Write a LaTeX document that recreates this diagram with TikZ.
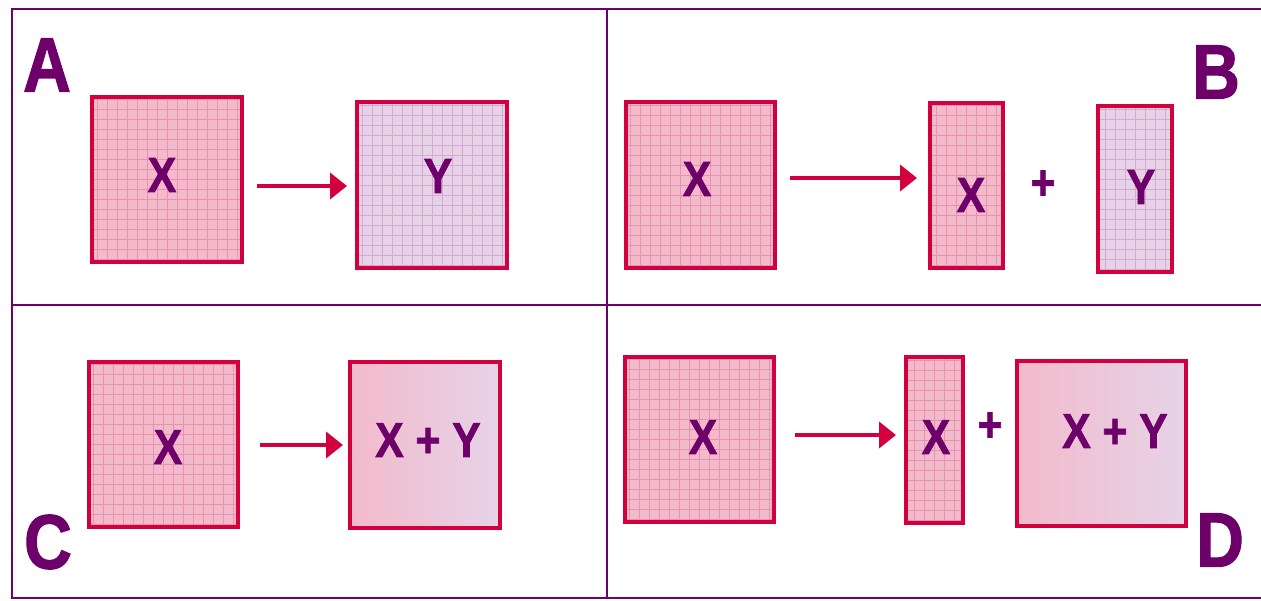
\documentclass[tikz,border=0pt]{standalone}
\usepackage{fontspec}
\setmainfont{Liberation Sans}[BoldFeatures={FakeBold=1.6}]
\usetikzlibrary{arrows.meta}
\definecolor{purp}{HTML}{6E006A}
\definecolor{redb}{HTML}{D2003C}
\definecolor{pinkf}{HTML}{F2BACB}
\definecolor{pinkg}{HTML}{E892B0}
\definecolor{lavf}{HTML}{E7D3E8}
\definecolor{lavg}{HTML}{D5A9D1}
\tikzset{
  frameline/.style={draw=purp, line width=2.8pt},
  boxbase/.style={draw=redb, line width=4pt, inner sep=0pt, anchor=center},
  xbox/.style={boxbase, fill=pinkf, path picture={\draw[pinkg, line width=0.8pt] (path picture bounding box.south west) grid[step=10pt] (path picture bounding box.north east);}},
  ybox/.style={boxbase, fill=lavf, path picture={\draw[lavg, line width=0.8pt] (path picture bounding box.south west) grid[step=10pt] (path picture bounding box.north east);}},
  gbox/.style={boxbase, left color=pinkf, right color=lavf},
  lbl/.style={text=purp, font=\bfseries\fontsize{49}{49}\selectfont, inner sep=0pt, xscale=0.87},
  corner/.style={text=purp, font=\bfseries\fontsize{77}{77}\selectfont, inner sep=0pt, xscale=0.86},
  arr/.style={draw=redb, line width=4pt, -{Triangle[length=17pt,width=26pt]}}
}
\begin{document}
\begin{tikzpicture}[x=1pt,y=-1pt]
\useasboundingbox (0,0) rectangle (1261,600);
% frame
\draw[frameline] (1262,9) -- (12,9) -- (12,598) -- (1262,598);
\draw[frameline] (12,305) -- (1262,305);
\draw[frameline] (607,9) -- (607,598);
% corner letters
\node[corner] (la) at (47,65) {A};
\node[corner] (lb) at (1216,72) {B};
\node[corner] (lc) at (48,542) {C};
\node[corner] (ld) at (1220,540) {D};
% panel A
\node[xbox, minimum width=150pt, minimum height=165pt] (ax) at (167,179.5) {};
\node[ybox, minimum width=150pt, minimum height=166pt] (ay) at (432,185) {};
\node[lbl] (tax) at (162,175) {X};
\node[lbl] (tay) at (438,176) {Y};
\draw[arr] ([yshift=-6.5pt,xshift=13pt]ax.east) -- ([yshift=-1pt,xshift=-8pt]ay.west);
% panel B
\node[xbox, minimum width=149pt, minimum height=166pt] (bx) at (700.5,185) {};
\node[xbox, minimum width=73pt, minimum height=165pt] (bxn) at (966.5,185.5) {};
\node[ybox, minimum width=74pt, minimum height=166pt] (byn) at (1135,189) {};
\node[lbl] (tbx) at (697,179) {X};
\node[lbl] (tbxn) at (971,195) {X};
\node[lbl] (tbp) at (1043,185) {+};
\node[lbl] (tbyn) at (1141,187) {Y};
\draw[arr] ([yshift=7pt,xshift=13pt]bx.east) -- ([yshift=7.5pt,xshift=-11pt]bxn.west);
% panel C
\node[xbox, minimum width=149pt, minimum height=165pt] (cx) at (163.5,444.5) {};
\node[gbox, minimum width=150pt, minimum height=166pt] (cxy) at (425,445) {};
\node[lbl] (tcx) at (168,447) {X};
\node[lbl] (tcxy) at (428,440) {X + Y};
\draw[arr] ([yshift=-0.5pt,xshift=20pt]cx.east) -- ([xshift=-5pt]cxy.west);
% panel D
\node[xbox, minimum width=149pt, minimum height=165pt] (dx) at (699.5,439.5) {};
\node[xbox, minimum width=57pt, minimum height=166pt] (dxn) at (934.5,440) {};
\node[gbox, minimum width=169pt, minimum height=165pt] (dxy) at (1101.5,443.5) {};
\node[lbl] (tdx) at (703,437) {X};
\node[lbl] (tdxn) at (936,437) {X};
\node[lbl] (tdp) at (990,427) {+};
\node[lbl] (tdxy) at (1115,431) {X + Y};
\draw[arr] ([yshift=4.5pt,xshift=19pt]dx.east) -- ([yshift=5pt,xshift=-8pt]dxn.west);
\end{tikzpicture}
\end{document}
